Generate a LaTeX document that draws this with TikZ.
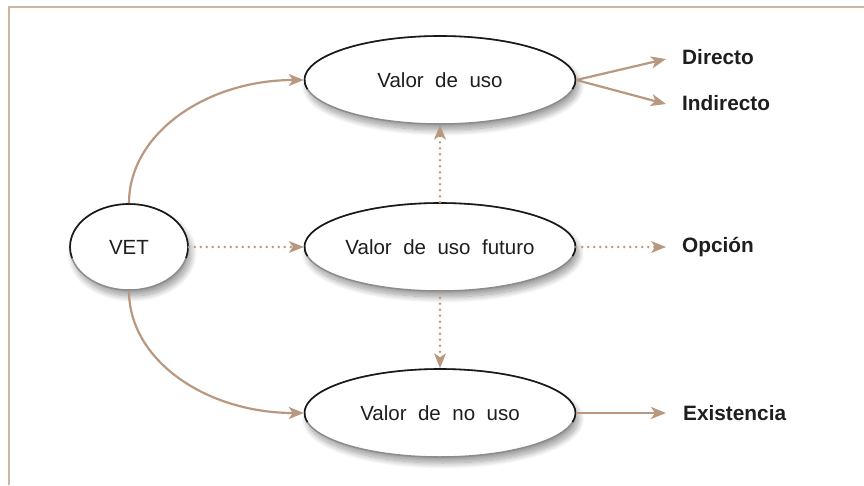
\documentclass[tikz,border=0pt]{standalone}
\usepackage{fontspec}
\setmainfont{Liberation Sans}
\usetikzlibrary{shapes.geometric,arrows.meta,shadows.blur}
\definecolor{arrowcol}{RGB}{184,152,128}
\definecolor{framecol}{RGB}{205,181,164}
\definecolor{txtcol}{RGB}{30,30,30}
\newcommand{\wsp}{\hspace{11.5pt}}
\tikzset{
  oval/.style={ellipse, draw=black!45, line width=1.5pt, fill=white, inner sep=0pt,
    blur shadow={shadow xshift=3pt, shadow yshift=-6pt, shadow blur steps=14, shadow blur radius=6pt, shadow opacity=40},
    text=txtcol, font=\fontsize{20.5}{24}\selectfont},
  lbl/.style={anchor=west, text=txtcol, inner sep=0pt, font=\fontsize{20.8}{24}\selectfont\bfseries},
  solidarr/.style={draw=arrowcol, line width=2.2pt, -{Stealth[length=15pt,width=12pt,inset=4pt,fill=arrowcol]}},
  dotarr/.style={draw=arrowcol, line width=2.6pt, line cap=round, dash pattern=on 0pt off 6pt,
    -{Stealth[length=15pt,width=12pt,inset=4pt,fill=arrowcol,line width=0pt]}},
  rim/.style={draw=black!90, line width=1.6pt}
}
\begin{document}
\begin{tikzpicture}[x=1pt,y=1pt]
\useasboundingbox (0,0) rectangle (864,485);
% frame
\draw[framecol, line width=1.3pt] (9,0) -- (9,478) -- (864,478);
% ellipses
\node[oval, minimum width=118, minimum height=86] (vet) at (129,238) {VET};
\node[oval, minimum width=271, minimum height=88] (uso) at (440,405) {Valor\wsp de\wsp uso};
\node[oval, minimum width=271, minimum height=88] (fut) at (440,238) {Valor\wsp de\wsp uso\wsp futuro};
\node[oval, minimum width=271, minimum height=88] (nou) at (440,72) {Valor\wsp de\wsp no\wsp uso};
% dark rims (upper part of each outline)
\draw[rim] (vet.center) ++(-15:59 and 43) arc[start angle=-15, end angle=195, x radius=59, y radius=43];
\draw[rim] (uso.center) ++(-12:135.5 and 44) arc[start angle=-12, end angle=192, x radius=135.5, y radius=44];
\draw[rim] (fut.center) ++(-12:135.5 and 44) arc[start angle=-12, end angle=192, x radius=135.5, y radius=44];
\draw[rim] (nou.center) ++(-12:135.5 and 44) arc[start angle=-12, end angle=192, x radius=135.5, y radius=44];
% labels
\node[lbl] (dir) at (682,428) {Directo};
\node[lbl] (ind) at (682,382) {Indirecto};
\node[lbl] (opc) at (682,238) {Opción};
\node[lbl] (exi) at (683,72) {Existencia};
% arrow end points
\coordinate (tdir) at (666,426);
\coordinate (tind) at (666,381);
\coordinate (topc) at (666,238);
\coordinate (texi) at (666,72);
% connectors
\draw[solidarr] (vet.north) .. controls +(0,70) and +(-97,0) .. (uso.west);
\draw[solidarr] (vet.south) .. controls +(0,-70) and +(-97,0) .. (nou.west);
\draw[dotarr] (vet.east) -- (fut.west);
\draw[dotarr] (fut.north) -- (uso.south);
\draw[dotarr] (fut.south) -- (nou.north);
\draw[solidarr] (uso.east) -- (tdir);
\draw[solidarr] (uso.east) -- (tind);
\draw[dotarr] (fut.east) -- (topc);
\draw[solidarr] (nou.east) -- (texi);
\end{tikzpicture}
\end{document}
